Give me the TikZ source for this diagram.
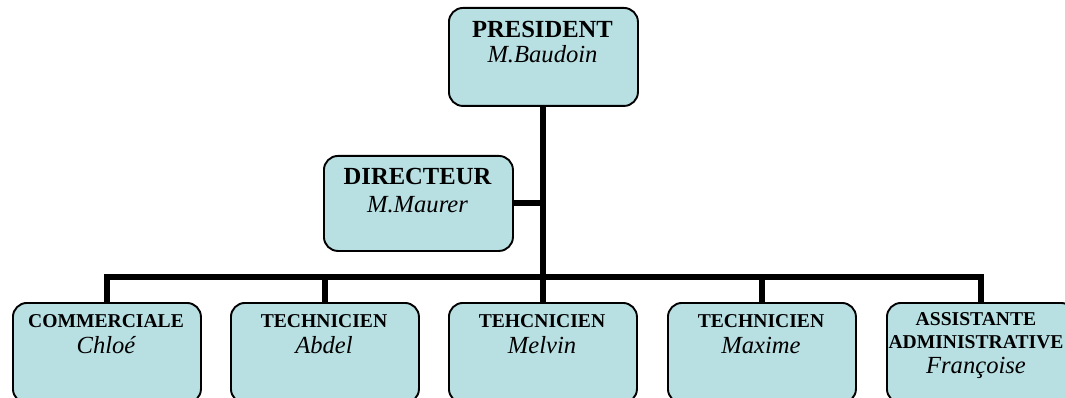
\documentclass[tikz,border=0pt]{standalone}
\usepackage{fontspec}
\setmainfont{Liberation Serif}
\definecolor{boxfill}{RGB}{184,223,226}
\tikzset{
  orgbox/.style={draw=black, line width=1.9pt, fill=boxfill, rounded corners=14pt, rectangle, inner sep=0pt, anchor=north west},
  link/.style={line width=6pt, draw=black},
  big/.style={anchor=base, font=\fontsize{24.6}{26}\selectfont\bfseries, inner sep=0pt},
  small/.style={anchor=base, font=\fontsize{19.6}{21}\selectfont\bfseries, inner sep=0pt},
  who/.style={anchor=base, font=\fontsize{24.6}{26}\selectfont\itshape, inner sep=0pt},
}
\begin{document}
\begin{tikzpicture}[x=1pt, y=-1pt]
\useasboundingbox (0,0) rectangle (1065,398);
\clip (0,0) rectangle (1065,398);
% boxes
\node[orgbox, minimum width=189pt, minimum height=98pt] (pres) at (448,7) {};
\node[orgbox, minimum width=189pt, minimum height=95pt] (dir) at (323,155) {};
\node[orgbox, minimum width=188pt, minimum height=100pt] (b1) at (12,302) {};
\node[orgbox, minimum width=188pt, minimum height=100pt] (b2) at (230,302) {};
\node[orgbox, minimum width=188pt, minimum height=100pt] (b3) at (448,302) {};
\node[orgbox, minimum width=188pt, minimum height=100pt] (b4) at (667,302) {};
\node[orgbox, minimum width=188pt, minimum height=100pt] (b5) at (886,302) {};
% connectors
\coordinate (barL) at (b1.north |- 0,277);
\coordinate (barR) at (b5.north |- 0,277);
\coordinate (junc) at (pres.south |- 0,277);
\coordinate (djunc) at (pres.south |- dir.east);
\draw[link] (pres.south) -- (junc);
\draw[link] (dir.east) -- (djunc);
\draw[link] ([xshift=-3pt]barL) -- ([xshift=3pt]barR);
\foreach \b in {b1,b2,b3,b4,b5} {
  \draw[link] (\b.north |- 0,277) -- (\b.north);
}
% texts
\node[big] (presT) at (542.5,38) {PRESIDENT};
\node[who] (presN) at (542.5,63) {M.Baudoin};
\node[big] (dirT) at (417.5,185) {DIRECTEUR};
\node[who] (dirN) at (417.5,212) {M.Maurer};
\node[small] (b1T) at (106,327) {COMMERCIALE};
\node[who] (b1N) at (106,353) {Chloé};
\node[small] (b2T) at (324,327) {TECHNICIEN};
\node[who] (b2N) at (324,353) {Abdel};
\node[small] (b3T) at (542,327) {TEHCNICIEN};
\node[who] (b3N) at (542,353) {Melvin};
\node[small] (b4T) at (761,327) {TECHNICIEN};
\node[who] (b4N) at (761,353) {Maxime};
\node[small] (b5T) at (976,325) {ASSISTANTE};
\node[small] (b5U) at (976,348) {ADMINISTRATIVE};
\node[who] (b5N) at (976,373) {Françoise};
\end{tikzpicture}
\end{document}
